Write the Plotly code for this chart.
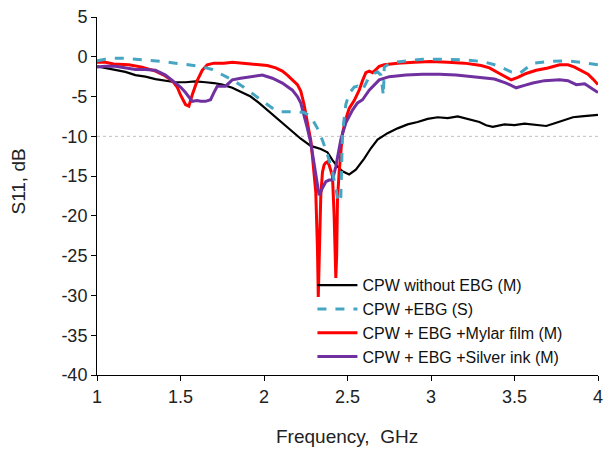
import plotly.graph_objects as go

# CPW without EBG (M)
f_black = [1.0,1.05,1.11,1.17,1.23,1.29,1.35,1.41,1.47,1.53,1.59,1.65,1.7,1.75,1.81,1.86,1.92,1.97,2.02,2.07,2.11,2.17,2.22,2.28,2.34,2.38,2.41,2.44,2.47,2.51,2.55,2.6,2.64,2.68,2.74,2.8,2.86,2.92,2.98,3.04,3.1,3.16,3.22,3.29,3.33,3.37,3.44,3.5,3.56,3.62,3.69,3.75,3.8,3.85,3.9,3.95,4.0]
s_black = [-1.2,-1.4,-1.6,-1.9,-2.3,-2.5,-2.8,-3.0,-3.2,-3.2,-3.1,-3.2,-3.3,-3.5,-3.9,-4.4,-5.0,-5.8,-6.7,-7.6,-8.4,-9.4,-10.3,-11.2,-11.6,-12.0,-13.0,-13.8,-14.4,-14.8,-14.2,-12.8,-11.5,-10.4,-9.6,-9.0,-8.5,-8.2,-7.8,-7.6,-7.7,-7.5,-7.8,-8.2,-8.6,-8.8,-8.5,-8.6,-8.4,-8.5,-8.7,-8.3,-7.9,-7.6,-7.5,-7.4,-7.3]

# CPW +EBG (S)
f_cyan = [1.0,1.05,1.1,1.17,1.23,1.3,1.39,1.47,1.55,1.62,1.69,1.75,1.81,1.87,1.92,1.97,2.02,2.06,2.1,2.15,2.2,2.24,2.28,2.32,2.35,2.38,2.41,2.43,2.445,2.46,2.47,2.49,2.51,2.54,2.56,2.59,2.61,2.63,2.66,2.68,2.7,2.71,2.715,2.72,2.74,2.78,2.85,2.95,3.07,3.2,3.31,3.38,3.43,3.48,3.53,3.57,3.61,3.7,3.81,3.9,4.0]
s_cyan = [-0.5,-0.3,-0.2,-0.2,-0.3,-0.4,-0.6,-0.8,-1.0,-1.2,-1.6,-2.2,-2.9,-3.7,-4.5,-5.3,-6.0,-6.6,-6.9,-6.9,-6.9,-7.0,-7.5,-9.0,-10.5,-12.3,-14.5,-16.5,-18.3,-17.6,-9.6,-6.0,-4.6,-3.8,-3.7,-4.2,-3.3,-2.5,-2.1,-1.9,-2.3,-4.6,-4.9,-1.3,-1.0,-0.7,-0.5,-0.3,-0.3,-0.4,-0.6,-1.0,-1.4,-1.9,-2.1,-1.5,-0.8,-0.6,-0.5,-0.7,-1.0]

# CPW + EBG +Mylar film (M)
f_red = [1.0,1.05,1.1,1.19,1.27,1.35,1.4,1.45,1.48,1.5,1.53,1.55,1.57,1.6,1.63,1.66,1.7,1.76,1.81,1.87,1.92,1.97,2.02,2.07,2.11,2.14,2.17,2.2,2.22,2.24,2.26,2.28,2.29,2.3,2.31,2.32,2.325,2.33,2.34,2.35,2.36,2.37,2.38,2.39,2.41,2.42,2.43,2.435,2.44,2.45,2.46,2.47,2.49,2.51,2.54,2.57,2.59,2.61,2.63,2.65,2.67,2.69,2.72,2.75,2.8,2.9,3.0,3.1,3.2,3.3,3.35,3.41,3.45,3.48,3.52,3.57,3.63,3.7,3.77,3.82,3.86,3.9,3.94,3.97,4.0]
s_red = [-0.7,-0.7,-0.9,-1.0,-1.3,-1.8,-2.3,-3.0,-3.8,-4.8,-6.0,-6.2,-4.8,-3.0,-1.7,-1.0,-0.8,-0.8,-0.7,-0.8,-0.9,-1.0,-1.1,-1.4,-1.8,-2.3,-2.9,-3.5,-4.3,-6.0,-8.3,-10.5,-12.5,-14.5,-17.0,-24.0,-30.2,-26.0,-17.5,-14.5,-13.6,-13.3,-13.2,-13.6,-15.0,-20.0,-27.8,-25.0,-18.0,-14.5,-12.0,-9.6,-7.8,-6.5,-5.5,-4.2,-3.0,-2.0,-1.8,-2.0,-1.6,-1.2,-1.0,-0.9,-0.8,-0.7,-0.6,-0.7,-0.8,-1.1,-1.4,-2.1,-2.6,-2.9,-2.6,-2.1,-1.7,-1.4,-1.0,-1.0,-1.3,-1.7,-2.2,-2.8,-3.5]

# CPW + EBG +Silver ink (M)
f_purple = [1.0,1.05,1.11,1.17,1.23,1.29,1.35,1.41,1.44,1.47,1.5,1.53,1.57,1.6,1.62,1.65,1.68,1.7,1.72,1.77,1.81,1.86,1.92,1.99,2.05,2.11,2.17,2.2,2.22,2.24,2.26,2.28,2.3,2.31,2.33,2.35,2.37,2.39,2.41,2.43,2.45,2.46,2.49,2.53,2.56,2.59,2.63,2.66,2.69,2.75,2.85,2.95,3.05,3.15,3.25,3.31,3.38,3.45,3.51,3.56,3.61,3.68,3.77,3.82,3.87,3.92,3.96,4.0]
s_purple = [-1.3,-1.2,-1.2,-1.4,-1.6,-1.6,-1.7,-2.3,-2.8,-3.3,-3.8,-4.5,-5.6,-5.5,-5.6,-5.6,-5.4,-4.5,-3.7,-3.7,-2.9,-2.7,-2.5,-2.3,-2.7,-3.3,-4.2,-5.0,-5.8,-7.3,-9.0,-10.8,-13.5,-15.1,-17.4,-16.5,-15.7,-15.5,-15.5,-13.8,-11.5,-10.4,-8.3,-6.7,-5.8,-5.4,-4.2,-3.5,-2.9,-2.5,-2.3,-2.2,-2.2,-2.3,-2.5,-2.6,-2.8,-3.3,-3.9,-3.6,-3.3,-3.0,-2.9,-3.0,-3.5,-3.4,-3.9,-4.5]

names = ["CPW without EBG (M)", "CPW +EBG (S)", "CPW + EBG +Mylar film (M)", "CPW + EBG +Silver ink (M)"]
x_ticks = [1, 1.5, 2, 2.5, 3, 3.5, 4]
y_ticks = [5, 0, -5, -10, -15, -20, -25, -30, -35, -40]
x_title = "Frequency,  GHz"
y_title = "S11, dB"
ref_level = -10

fig = go.Figure()
fig.add_trace(go.Scatter(x=f_black, y=s_black, mode="lines", name=names[0], legendrank=1,
                         line=dict(color="black", width=2.2)))
fig.add_trace(go.Scatter(x=f_red, y=s_red, mode="lines", name=names[2], legendrank=3,
                         line=dict(color="#ff0000", width=3)))
fig.add_trace(go.Scatter(x=f_purple, y=s_purple, mode="lines", name=names[3], legendrank=4,
                         line=dict(color="#7030a0", width=3)))
fig.add_trace(go.Scatter(x=f_cyan, y=s_cyan, mode="lines", name=names[1], legendrank=2,
                         line=dict(color="#45a5c3", width=3, dash="dash")))

fig.add_shape(type="line", xref="x", yref="y", x0=x_ticks[0], x1=x_ticks[-1],
              y0=ref_level, y1=ref_level, line=dict(color="#c0c0c0", width=1, dash="dot"),
              layer="below")

font_family = "Liberation Sans, Arial, sans-serif"
fig.update_layout(
    width=603, height=452,
    margin=dict(l=97, r=5, t=17, b=77, autoexpand=False),
    paper_bgcolor="white", plot_bgcolor="white",
    font=dict(family=font_family, size=18, color="#222"),
    legend=dict(x=0.43, y=0.298, xanchor="left", yanchor="top",
                bgcolor="rgba(0,0,0,0)", font=dict(size=16, color="#111"),
                tracegroupgap=0, itemwidth=40),
    showlegend=True,
    annotations=[
        dict(text=x_title, xref="paper", yref="paper", x=0.499, y=-0.173,
             xanchor="center", yanchor="middle", showarrow=False,
             font=dict(size=19, color="#222")),
        dict(text=y_title, xref="paper", yref="paper", x=-0.156, y=0.54,
             xanchor="center", yanchor="middle", showarrow=False, textangle=-90,
             font=dict(size=19, color="#222")),
    ],
)
fig.update_xaxes(range=[1, 4], tickvals=x_ticks, ticktext=[str(v) for v in x_ticks],
                 showline=True, linecolor="black", linewidth=1, ticks="outside",
                 ticklen=5, tickcolor="black", showgrid=False, zeroline=False,
                 tickfont=dict(size=18), automargin=False, ticklabeloverflow="allow")
fig.update_yaxes(range=[-40, 5], tickvals=y_ticks, ticktext=[str(v) for v in y_ticks],
                 showline=True, linecolor="black", linewidth=1, ticks="outside",
                 ticklen=5, tickcolor="black", showgrid=False, zeroline=False,
                 tickfont=dict(size=18), automargin=False, ticklabeloverflow="allow")

fig.write_html("out.html", config={"displayModeBar": False},
               post_script="document.body.style.margin='0';document.body.style.overflow='hidden';")
